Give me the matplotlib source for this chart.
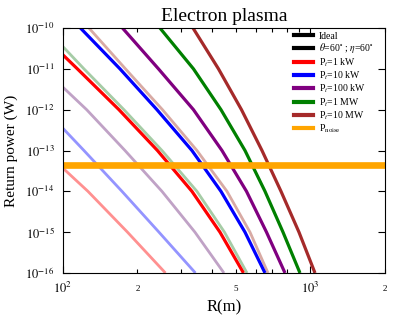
import matplotlib
matplotlib.use("Agg")
import matplotlib.pyplot as plt
from matplotlib.lines import Line2D
from matplotlib.ticker import FixedLocator, FixedFormatter, NullFormatter

plt.rcParams['font.family'] = ['Liberation Serif', 'DejaVu Serif']
plt.rcParams['mathtext.fontset'] = 'stix'

# Ideal curves (bold)
R_1kW = [100, 114.4, 168.4, 240.9, 332.0, 430.9, 536.3]
P_1kW = [2.2e-11, 1e-11, 1e-12, 1e-13, 1e-14, 1e-15, 1e-16]
R_10kW = [117.7, 170.0, 239.8, 332.0, 434.9, 543.8, 655.0]
P_10kW = [1e-10, 1e-11, 1e-12, 1e-13, 1e-14, 1e-15, 1e-16]
R_100kW = [174.0, 243.2, 336.7, 439.0, 551.4, 664.2, 788.9]
P_100kW = [1e-10, 1e-11, 1e-12, 1e-13, 1e-14, 1e-15, 1e-16]
R_1MW = [246.6, 336.7, 434.9, 543.8, 655.0, 774.4, 906.8]
P_1MW = [1e-10, 1e-11, 1e-12, 1e-13, 1e-14, 1e-15, 1e-16]
R_10MW = [335.3, 424.9, 526.3, 636.9, 760.1, 898.4, 1042.7]
P_10MW = [1e-10, 1e-11, 1e-12, 1e-13, 1e-14, 1e-15, 1e-16]

# theta=60, eta=60 curves (faded)
R_1kW_60 = [100, 126.2, 182.3, 259.5]
P_1kW_60 = [3.7e-14, 1e-14, 1e-15, 1e-16]
R_10kW_60 = [100, 121.6, 173.2, 244.3, 343.0]
P_10kW_60 = [3.5e-13, 1e-13, 1e-14, 1e-15, 1e-16]
R_100kW_60 = [100, 124.7, 178.1, 251.2, 341.4, 447.2]
P_100kW_60 = [3.55e-12, 1e-12, 1e-13, 1e-14, 1e-15, 1e-16]
R_1MW_60 = [100, 121.6, 176.4, 251.2, 347.8, 449.3, 554.0]
P_1MW_60 = [3.5e-11, 1e-11, 1e-12, 1e-13, 1e-14, 1e-15, 1e-16]
R_10MW_60 = [127.4, 178.9, 252.4, 347.8, 459.9, 569.7, 673.5]
P_10MW_60 = [1e-10, 1e-11, 1e-12, 1e-13, 1e-14, 1e-15, 1e-16]

P_noise = 4.5e-14

y_ticks = [1e-16, 1e-15, 1e-14, 1e-13, 1e-12, 1e-11, 1e-10]
y_tick_labels = ["$10^{-16}$", "$10^{-15}$", "$10^{-14}$", "$10^{-13}$",
                 "$10^{-12}$", "$10^{-11}$", "$10^{-10}$"]
x_major = [100, 1000]
x_major_labels = ["$10^2$", "$10^3$"]
x_minor = [200, 300, 400, 500, 600, 700, 800, 900, 2000]
x_minor_labels = ["2", "", "", "5", "", "", "", "", "2"]

labels = ["P$_t$=1 kW", "P$_t$=10 kW", "P$_t$=100 kW", "P$_t$=1 MW", "P$_t$=10 MW"]
colors = ["#ff0000", "#0000ff", "#800080", "#008000", "#a52a2a"]
faded = ["#ff9090", "#9494ff", "#c0a2c6", "#a6cca6", "#d8aaa4"]

fig = plt.figure(figsize=(4.14, 3.26), dpi=100)
ax = fig.add_axes([0.152, 0.1626, 0.778, 0.7514])

ideal = [(R_1kW, P_1kW), (R_10kW, P_10kW), (R_100kW, P_100kW), (R_1MW, P_1MW), (R_10MW, P_10MW)]
tilted = [(R_1kW_60, P_1kW_60), (R_10kW_60, P_10kW_60), (R_100kW_60, P_100kW_60),
          (R_1MW_60, P_1MW_60), (R_10MW_60, P_10MW_60)]

for (r, p), c in zip(tilted, faded):
    ax.plot(r, p, color=c, lw=2.0, solid_capstyle='butt', solid_joinstyle='round')
for (r, p), c in zip(ideal, colors):
    ax.plot(r, p, color=c, lw=2.3, solid_capstyle='butt', solid_joinstyle='round')

ax.axhline(P_noise, color='#ffa500', lw=4.8)

ax.set_xscale('log')
ax.set_yscale('log')
ax.set_xlim(100, 2000)
ax.set_ylim(1e-16, 1e-10)

ax.xaxis.set_major_locator(FixedLocator(x_major))
ax.xaxis.set_major_formatter(FixedFormatter(x_major_labels))
ax.xaxis.set_minor_locator(FixedLocator(x_minor))
ax.xaxis.set_minor_formatter(FixedFormatter(x_minor_labels))
ax.yaxis.set_major_locator(FixedLocator(y_ticks))
ax.yaxis.set_major_formatter(FixedFormatter(y_tick_labels))
ax.yaxis.set_minor_locator(FixedLocator([]))
ax.yaxis.set_minor_formatter(NullFormatter())

ax.tick_params(which='both', direction='in', top=True, right=True, width=0.8)
ax.tick_params(which='major', length=5, labelsize=9, pad=6)
ax.tick_params(axis='x', which='minor', length=3, labelsize=6.5, pad=9)

ax.set_title("Electron plasma", fontsize=14, pad=5)
ax.set_xlabel("R(m)", fontsize=12, labelpad=2)
ax.set_ylabel("Return power (W)", fontsize=11, labelpad=5)

handles = [Line2D([], [], color='black', lw=3),
           Line2D([], [], color='black', lw=3)]
leg_labels = ["Ideal", r"$\theta$=60$^{\circ}$ ; $\eta$=60$^{\circ}$"]
for c, l in zip(colors, labels):
    handles.append(Line2D([], [], color=c, lw=3))
    leg_labels.append(l)
handles.append(Line2D([], [], color='#ffa500', lw=3))
leg_labels.append("P$_{\\rm noise}$")

ax.legend(handles, leg_labels, loc='upper left', frameon=False, fontsize=7,
          handlelength=2.0, handletextpad=0.6, labelspacing=0.08,
          borderpad=0, borderaxespad=0, bbox_to_anchor=(0.717, 0.985))

fig.savefig("out.png", dpi=100)
